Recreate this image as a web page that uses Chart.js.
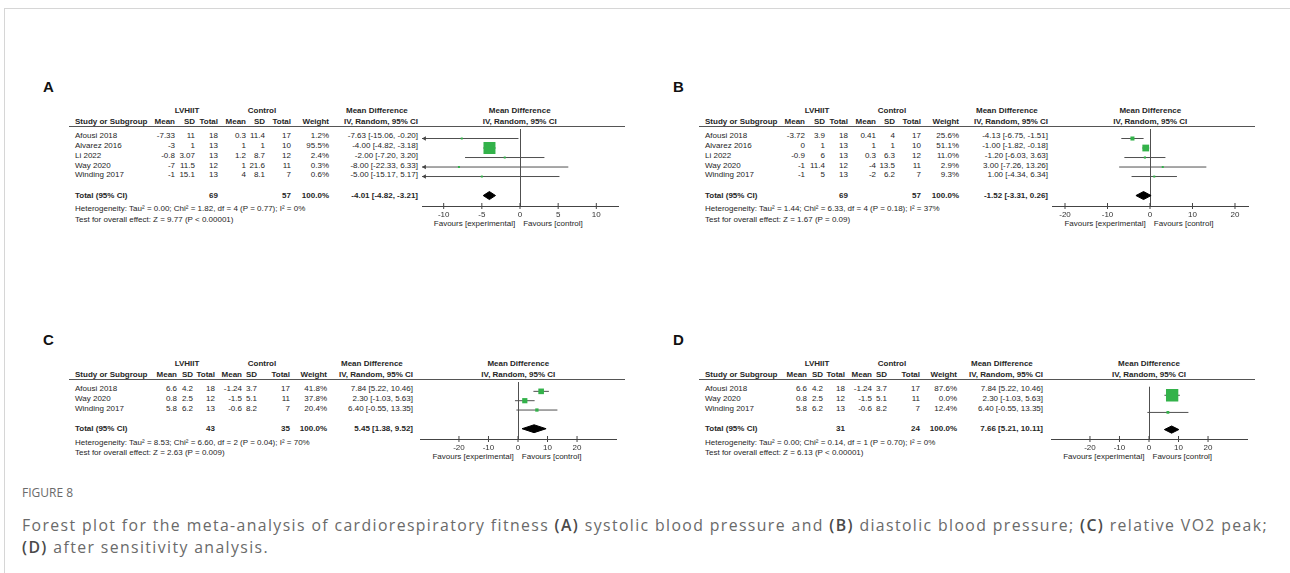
<!DOCTYPE html>
<html><head><meta charset="utf-8">
<script src="https://cdn.jsdelivr.net/npm/chart.js@4.4.1/dist/chart.umd.min.js"></script>
<style>
html,body{margin:0;padding:0;background:#fff;}
#root{position:relative;width:1290px;height:573px;overflow:hidden;font-family:"Liberation Sans",Arial,sans-serif;color:#262626;}
.t{position:absolute;font-size:8px;line-height:10px;white-space:nowrap;}
.b{font-weight:bold;}
.lbl{position:absolute;font-size:15px;font-weight:bold;line-height:16px;color:#111;}
.rule{position:absolute;height:0;border-top:1px solid #555;}
#frame{position:absolute;left:4px;top:8px;right:-2px;bottom:-2px;border-top:1px solid #d6d6d6;border-left:1px solid #d6d6d6;}
.cap{position:absolute;left:22px;font-family:"Open Sans",sans-serif;color:#6a6a6a;white-space:nowrap;}
.cap b{color:#4a4a4a;font-weight:600;}
</style></head>
<body><div id="root"><div id="frame"></div>
<div class="cap" id="fig" style="top:485px;font-size:12px;line-height:16px;">FIGURE 8</div>
<div class="cap" id="cap1" style="top:516px;font-size:15.5px;line-height:18px;">Forest plot for the meta-analysis of cardiorespiratory fitness <b>(A)</b> systolic blood pressure and <b>(B)</b> diastolic blood pressure; <b>(C)</b> relative VO2 peak;</div>
<div class="cap" id="cap2" style="top:538px;font-size:15.5px;line-height:18px;"><b>(D)</b> after sensitivity analysis.</div>
</div>
<script>
// ---------------- DATA ----------------
const studiesA = ["Afousi 2018","Alvarez 2016","Li 2022","Way 2020","Winding 2017"];
const expMeanA = [-7.33,-3,-0.8,-7,-1];
const expSdA   = [11,1,3.07,11.5,15.1];
const expNA    = [18,13,13,12,13];
const ctlMeanA = [0.3,1,1.2,1,4];
const ctlSdA   = [11.4,1,8.7,21.6,8.1];
const ctlNA    = [17,10,12,11,7];
const weightA  = [1.2,95.5,2.4,0.3,0.6];
const mdA      = [-7.63,-4.00,-2.00,-8.00,-5.00];
const loA      = [-15.06,-4.82,-7.20,-22.33,-15.17];
const hiA      = [-0.20,-3.18,3.20,6.33,5.17];
const totalA   = [-4.01,-4.82,-3.21];
const totalNA  = [69,57];
const hetA  = "Heterogeneity: Tau\u00b2 = 0.00; Chi\u00b2 = 1.82, df = 4 (P = 0.77); I\u00b2 = 0%";
const testA = "Test for overall effect: Z = 9.77 (P < 0.00001)";
const ticksA = [-10,-5,0,5,10];

const studiesB = ["Afousi 2018","Alvarez 2016","Li 2022","Way 2020","Winding 2017"];
const expMeanB = [-3.72,0,-0.9,-1,-1];
const expSdB   = [3.9,1,6,11.4,5];
const expNB    = [18,13,13,12,13];
const ctlMeanB = [0.41,1,0.3,-4,-2];
const ctlSdB   = [4,1,6.3,13.5,6.2];
const ctlNB    = [17,10,12,11,7];
const weightB  = [25.6,51.1,11.0,2.9,9.3];
const mdB      = [-4.13,-1.00,-1.20,3.00,1.00];
const loB      = [-6.75,-1.82,-6.03,-7.26,-4.34];
const hiB      = [-1.51,-0.18,3.63,13.26,6.34];
const totalB   = [-1.52,-3.31,0.26];
const totalNB  = [69,57];
const hetB  = "Heterogeneity: Tau\u00b2 = 1.44; Chi\u00b2 = 6.33, df = 4 (P = 0.18); I\u00b2 = 37%";
const testB = "Test for overall effect: Z = 1.67 (P = 0.09)";
const ticksB = [-20,-10,0,10,20];

const studiesC = ["Afousi 2018","Way 2020","Winding 2017"];
const expMeanC = [6.6,0.8,5.8];
const expSdC   = [4.2,2.5,6.2];
const expNC    = [18,12,13];
const ctlMeanC = [-1.24,-1.5,-0.6];
const ctlSdC   = [3.7,5.1,8.2];
const ctlNC    = [17,11,7];
const weightC  = [41.8,37.8,20.4];
const mdC      = [7.84,2.30,6.40];
const loC      = [5.22,-1.03,-0.55];
const hiC      = [10.46,5.63,13.35];
const totalC   = [5.45,1.38,9.52];
const totalNC  = [43,35];
const hetC  = "Heterogeneity: Tau\u00b2 = 8.53; Chi\u00b2 = 6.60, df = 2 (P = 0.04); I\u00b2 = 70%";
const testC = "Test for overall effect: Z = 2.63 (P = 0.009)";
const ticksC = [-20,-10,0,10,20];

const studiesD = ["Afousi 2018","Way 2020","Winding 2017"];
const expMeanD = [6.6,0.8,5.8];
const expSdD   = [4.2,2.5,6.2];
const expND    = [18,12,13];
const ctlMeanD = [-1.24,-1.5,-0.6];
const ctlSdD   = [3.7,5.1,8.2];
const ctlND    = [17,11,7];
const weightD  = [87.6,0.0,12.4];
const mdD      = [7.84,2.30,6.40];
const loD      = [5.22,-1.03,-0.55];
const hiD      = [10.46,5.63,13.35];
const totalD   = [7.66,5.21,10.11];
const totalND  = [31,24];
const hetD  = "Heterogeneity: Tau\u00b2 = 0.00; Chi\u00b2 = 0.14, df = 1 (P = 0.70); I\u00b2 = 0%";
const testD = "Test for overall effect: Z = 6.13 (P < 0.00001)";
const ticksD = [-20,-10,0,10,20];

// ---------------- LAYOUT (positions / styles only) ----------------
const layAB = {labelY:87, grpY:110.5, subY:121.5, topY:126.5, yMax:8.1,
  cols:[175,195,218,246,265,291,329], ciRight:418, lvC:187, ctC:262, mdL:346, half:98, lineL:69, lineR:625};
const layCD = {labelY:340, grpY:363.5, subY:374.5, topY:379.5, yMax:6.1,
  cols:[177,193,215,242,257,290,327], ciRight:413, lvC:187, ctC:262, mdL:341, half:98, lineL:69, lineR:625};
const panels = [
  Object.assign({}, layAB, {ox:0,   label:'A', zero:519.7, xmax:12.84, sq:12.4,
    d:{studies:studiesA,em:expMeanA,es:expSdA,en:expNA,cm:ctlMeanA,cs:ctlSdA,cn:ctlNA,w:weightA,md:mdA,lo:loA,hi:hiA,tot:totalA,tn:totalNA,het:hetA,test:testA,ticks:ticksA}}),
  Object.assign({}, layAB, {ox:630, label:'B', zero:520.3, xmax:23.06, sq:11.2,
    d:{studies:studiesB,em:expMeanB,es:expSdB,en:expNB,cm:ctlMeanB,cs:ctlSdB,cn:ctlNB,w:weightB,md:mdB,lo:loB,hi:hiB,tot:totalB,tn:totalNB,het:hetB,test:testB,ticks:ticksB}}),
  Object.assign({}, layCD, {ox:0,   label:'C', zero:518.3, xmax:33.2, sq:10.8,
    d:{studies:studiesC,em:expMeanC,es:expSdC,en:expNC,cm:ctlMeanC,cs:ctlSdC,cn:ctlNC,w:weightC,md:mdC,lo:loC,hi:hiC,tot:totalC,tn:totalNC,het:hetC,test:testC,ticks:ticksC}}),
  Object.assign({}, layCD, {ox:630, label:'D', zero:519.0, xmax:33.2, sq:13.6,
    d:{studies:studiesD,em:expMeanD,es:expSdD,en:expND,cm:ctlMeanD,cs:ctlSdD,cn:ctlND,w:weightD,md:mdD,lo:loD,hi:hiD,tot:totalD,tn:totalND,het:hetD,test:testD,ticks:ticksD}})
];

const root = document.getElementById('root');
Chart.defaults.font.family = '"Liberation Sans", Arial, sans-serif';

function txt(s, x, y, align, bold) {
  const el = document.createElement('div');
  el.className = 't' + (bold ? ' b' : '');
  el.textContent = s;
  el.style.left = x + 'px';
  el.style.top = (y - 5) + 'px';
  if (align === 'r') el.style.transform = 'translateX(-100%)';
  else if (align === 'c') el.style.transform = 'translateX(-50%)';
  root.appendChild(el);
}
const ci = (m, l, h) => `${m.toFixed(2)} [${l.toFixed(2)}, ${h.toFixed(2)}]`;

panels.forEach(P => {
  const o = P.ox, d = P.d;
  const rowH = 9.75;
  const axisY = P.topY + P.yMax * rowH;
  const zeroX = o + P.zero;
  // panel letter
  const lb = document.createElement('div');
  lb.className = 'lbl'; lb.textContent = P.label;
  lb.style.left = (o + 43) + 'px'; lb.style.top = (P.labelY - 8) + 'px';
  root.appendChild(lb);
  // headers
  txt('LVHIIT', o + P.lvC, P.grpY, 'c', true);
  txt('Control', o + P.ctC, P.grpY, 'c', true);
  txt('Mean Difference', o + P.mdL, P.grpY, 'l', true);
  txt('Mean Difference', zeroX, P.grpY, 'c', true);
  txt('Study or Subgroup', o + 75, P.subY, 'l', true);
  ['Mean','SD','Total','Mean','SD','Total','Weight'].forEach((h, i) => txt(h, o + P.cols[i], P.subY, 'r', true));
  txt('IV, Random, 95% CI', o + P.ciRight, P.subY, 'r', true);
  txt('IV, Random, 95% CI', zeroX, P.subY, 'c', true);
  const rule = document.createElement('div');
  rule.className = 'rule';
  rule.style.left = (o + P.lineL) + 'px'; rule.style.width = (P.lineR - P.lineL) + 'px';
  rule.style.top = Math.round(P.topY - 0.5) + 'px';
  root.appendChild(rule);
  // rows
  d.studies.forEach((s, i) => {
    const y = P.topY + (i + 1) * rowH;
    txt(s, o + 75, y, 'l', false);
    const vals = [d.em[i], d.es[i], d.en[i], d.cm[i], d.cs[i], d.cn[i]].map(String);
    vals.push(d.w[i].toFixed(1) + '%');
    vals.forEach((v, k) => txt(v, o + P.cols[k], y, 'r', false));
    txt(ci(d.md[i], d.lo[i], d.hi[i]), o + P.ciRight, y, 'r', false);
  });
  const tY = P.topY + (d.studies.length + 2) * rowH;
  txt('Total (95% CI)', o + 75, tY + 1, 'l', true);
  txt(String(d.tn[0]), o + P.cols[2], tY + 1, 'r', true);
  txt(String(d.tn[1]), o + P.cols[5], tY + 1, 'r', true);
  txt('100.0%', o + P.cols[6], tY + 1, 'r', true);
  txt(ci(d.tot[0], d.tot[1], d.tot[2]), o + P.ciRight, tY + 1, 'r', true);
  txt(d.het, o + 75, tY + 14.5, 'l', false);
  txt(d.test, o + 75, tY + 25, 'l', false);
  txt('Favours [experimental]', zeroX - 4.5, axisY + 18.5, 'r', false);
  txt('Favours [control]', zeroX + 3.5, axisY + 18.5, 'l', false);

  // ------------- chart -------------
  const padX = 14, padT = 2, axisH = 24, padB = 2;
  const axisL = zeroX - P.half, W = 2 * P.half;
  const cw = Math.round(W + 2 * padX), ch = Math.round(axisY - P.topY + padT + axisH + padB);
  const cv = document.createElement('canvas');
  cv.width = cw; cv.height = ch;
  cv.style.cssText = `position:absolute;left:${axisL - padX}px;top:${P.topY - padT}px;width:${cw}px;height:${ch}px;`;
  root.appendChild(cv);
  const ppu = P.half / P.xmax;
  const nRows = d.studies.length;
  const ds = [];
  // squares (drawn on top)
  const sqData = [], sqR = [];
  d.md.forEach((m, i) => { if (d.w[i] > 0) { sqData.push({x: m, y: i + 1}); sqR.push(Math.max(2, P.sq * Math.pow(d.w[i] / 100, 0.75)) / (2 * Math.SQRT1_2)); } });
  ds.push({type: 'line', showLine: false, data: sqData, pointStyle: 'rect', pointRadius: sqR, pointHoverRadius: sqR,
    pointBackgroundColor: '#33b24a', pointBorderWidth: 0, backgroundColor: '#33b24a', borderColor: '#33b24a'});
  // arrows for CIs beyond the axis
  const arL = [], arR = [];
  const ar = 2.6;
  d.md.forEach((m, i) => {
    if (d.w[i] <= 0) return;
    if (d.lo[i] < -P.xmax) arL.push({x: -P.xmax + ar / ppu, y: i + 1});
    if (d.hi[i] > P.xmax) arR.push({x: P.xmax - ar / ppu, y: i + 1});
  });
  ds.push({type: 'line', showLine: false, data: arL, pointStyle: 'triangle', rotation: 270, pointRadius: ar, pointHoverRadius: ar,
    pointBackgroundColor: '#444', pointBorderWidth: 0, clip: false});
  ds.push({type: 'line', showLine: false, data: arR, pointStyle: 'triangle', rotation: 90, pointRadius: ar, pointHoverRadius: ar,
    pointBackgroundColor: '#444', pointBorderWidth: 0, clip: false});
  // tick marks crossing the axis line
  ds.push({type: 'line', showLine: false, data: d.ticks.map(v => ({x: v, y: P.yMax})), pointStyle: 'line', rotation: 90,
    pointRadius: 3, pointHoverRadius: 3, pointBorderColor: '#444', pointBorderWidth: 1, clip: false});
  // CI whiskers
  d.md.forEach((m, i) => {
    if (d.w[i] <= 0) return;
    ds.push({type: 'line', data: [{x: d.lo[i], y: i + 1}, {x: d.hi[i], y: i + 1}], borderColor: '#505050', borderWidth: 1,
      pointRadius: 0, pointHoverRadius: 0, fill: false, tension: 0});
  });
  // total diamond
  const ty = nRows + 2, dh = 0.42;
  ds.push({type: 'line', data: [{x: d.tot[1], y: ty}, {x: d.tot[0], y: ty - dh}, {x: d.tot[2], y: ty}, {x: d.tot[0], y: ty + dh}, {x: d.tot[1], y: ty}],
    borderColor: '#000', backgroundColor: '#000', borderWidth: 1, fill: 'shape', pointRadius: 0, pointHoverRadius: 0, tension: 0});

  new Chart(cv, {
    type: 'line',
    data: {datasets: ds},
    options: {
      responsive: false, animation: false, events: [],
      layout: {padding: {left: padX, right: padX, top: padT, bottom: padB}},
      plugins: {legend: {display: false}, tooltip: {enabled: false}},
      scales: {
        x: {type: 'linear', min: -P.xmax, max: P.xmax,
          afterBuildTicks: s => { s.ticks = d.ticks.map(v => ({value: v})); },
          afterFit: s => { s.height = axisH; },
          ticks: {font: {size: 8}, color: '#333', padding: 4, autoSkip: false, maxRotation: 0, callback: v => String(v)},
          grid: {drawOnChartArea: true, drawTicks: false, color: c => (c.tick && c.tick.value === 0) ? '#505050' : 'rgba(0,0,0,0)', lineWidth: 1},
          border: {display: true, color: '#444', width: 1}
        },
        y: {type: 'linear', display: false, min: 0, max: P.yMax, reverse: true}
      }
    }
  });
});

// fit caption line to the reference width: keep the font at most 15.8px and spread letters instead
(function(){
  const c1 = document.getElementById('cap1'), c2 = document.getElementById('cap2');
  const fs = 15.8;
  c1.style.fontSize = fs + 'px'; c2.style.fontSize = fs + 'px';
  const w = c1.getBoundingClientRect().width;
  const n = c1.textContent.length;
  const ls = (1246 - w) / n;
  c1.style.letterSpacing = ls + 'px'; c2.style.letterSpacing = ls + 'px';
})();
</script>
</body></html>
